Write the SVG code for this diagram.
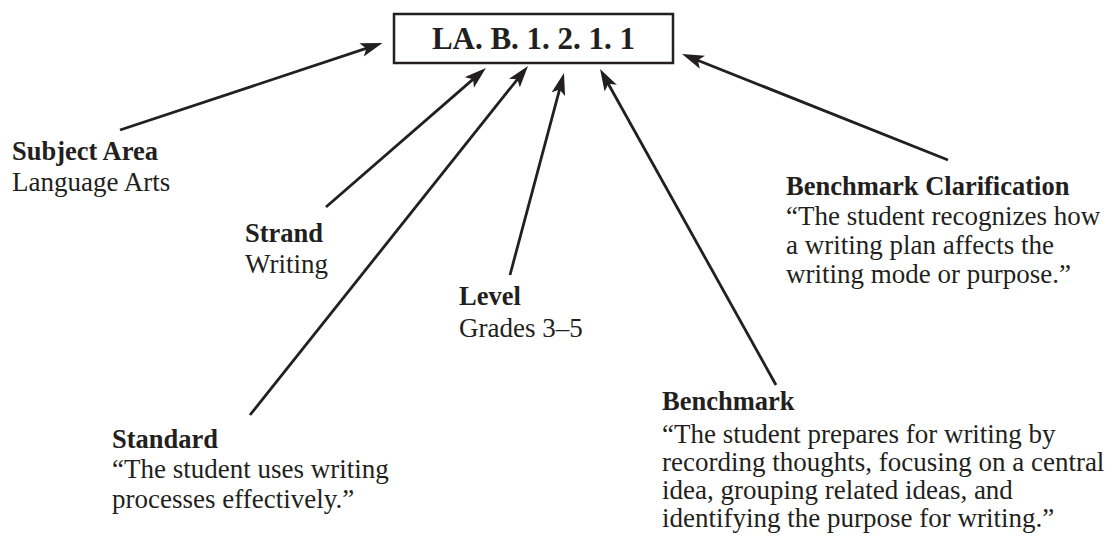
<svg xmlns="http://www.w3.org/2000/svg" width="1105" height="544" viewBox="0 0 1105 544">
<defs>
<style>
.t{font-family:"Liberation Serif","Times New Roman",serif;font-size:27px;fill:#231f20}
.b{font-weight:bold;font-size:26.5px}
.ln{stroke:#231f20;stroke-width:2.8;fill:none;marker-end:url(#ah)}
</style>
<marker id="ah" markerUnits="userSpaceOnUse" markerWidth="24" markerHeight="16" refX="12" refY="7" orient="auto" viewBox="0 0 24 16">
<path d="M0,0 L22,7 L0,14 L5,7 Z" fill="#231f20"/>
</marker>
</defs>
<rect width="1105" height="544" fill="#ffffff"/>
<g id="code">
<rect x="394" y="14" width="279" height="49" fill="#ffffff" stroke="#231f20" stroke-width="2.5"/>
<text class="t b" x="533.5" y="49" text-anchor="middle" style="font-size:31px">LA. B. 1. 2. 1. 1</text>
</g>
<g id="connectors">
<line class="ln" x1="120" y1="130" x2="373" y2="46.2"/>
<line class="ln" x1="326" y1="207" x2="478.4" y2="74.6"/>
<line class="ln" x1="250" y1="415" x2="521.8" y2="73.8"/>
<line class="ln" x1="510" y1="275" x2="561.4" y2="82.7"/>
<line class="ln" x1="776" y1="385" x2="604.9" y2="77.7"/>
<line class="ln" x1="948" y1="160" x2="691.3" y2="57.7"/>
</g>
<g id="subject">
<text class="t b" x="12" y="160">Subject Area</text>
<text class="t" x="12" y="191">Language Arts</text>
</g>
<g id="strand">
<text class="t b" x="245" y="242">Strand</text>
<text class="t" x="245" y="273">Writing</text>
</g>
<g id="level">
<text class="t b" x="459" y="305">Level</text>
<text class="t" x="459" y="337">Grades 3–5</text>
</g>
<g id="standard">
<text class="t b" x="112" y="448">Standard</text>
<text class="t" x="112" y="478">“The student uses writing</text>
<text class="t" x="112" y="508">processes effectively.”</text>
</g>
<g id="benchmark">
<text class="t b" x="662" y="410">Benchmark</text>
<text class="t" x="662" y="443">“The student prepares for writing by</text>
<text class="t" x="662" y="471">recording thoughts, focusing on a central</text>
<text class="t" x="662" y="499">idea, grouping related ideas, and</text>
<text class="t" x="662" y="527">identifying the purpose for writing.”</text>
</g>
<g id="clarification">
<text class="t b" x="786" y="195">Benchmark Clarification</text>
<text class="t" x="786" y="225">“The student recognizes how</text>
<text class="t" x="786" y="254">a writing plan affects the</text>
<text class="t" x="786" y="283">writing mode or purpose.”</text>
</g>
</svg>
